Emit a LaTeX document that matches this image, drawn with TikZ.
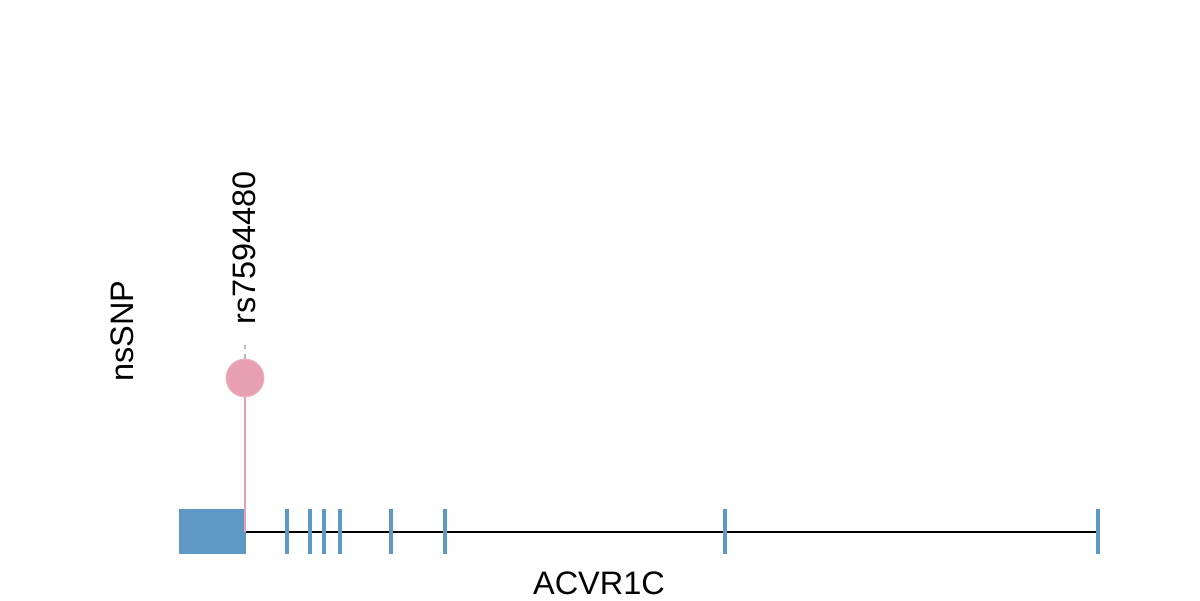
\documentclass[tikz,border=0pt]{standalone}
\usepackage{fontspec}
\setmainfont{Liberation Sans}
\usetikzlibrary{positioning}
\definecolor{exonblue}{RGB}{94,152,196}
\definecolor{snppink}{RGB}{232,160,176}
\definecolor{stemgray}{RGB}{185,185,185}
\tikzset{
  exon/.style={fill=exonblue,draw=none},
  exontick/.style={draw=exonblue,line width=2.8pt},
  backbone/.style={draw=black,line width=1.3pt},
  snpstem/.style={draw=snppink,line width=1.4pt},
  snphead/.style={circle,fill=snppink,draw=snppink!80!white,line width=0.6pt,minimum size=27pt,inner sep=0pt},
  snplead/.style={draw=stemgray,line width=1pt,dash pattern=on 3.5pt off 3pt},
  lbl/.style={font=\fontsize{23.1}{28}\selectfont,inner sep=0pt},
}
\begin{document}
\begin{tikzpicture}[x=0.025cm,y=-0.025cm]
  \useasboundingbox (0,0) rectangle (1200,600);
  % gene model
  \coordinate (gstart) at (246,532);
  \coordinate (gend) at (1098,532);
  \draw[backbone] (gstart) -- (gend);
  \fill[exon] (179,509) rectangle (246,554);
  \foreach \x [count=\i] in {287,310,324,340,391,445,725,1098}{
    \draw[exontick] (\x,509) -- (\x,554);
  }
  % variant
  \coordinate (snpbase) at (245,532);
  \node[snphead] (snp) at (245,378) {};
  \draw[snpstem] (snpbase) -- (snp.south);
  \coordinate (leadtop) at (245,344);
  \draw[snplead] (snp.north) -- (leadtop);
  \node[lbl,rotate=90,anchor=west] (snpname) at (244,325) {rs7594480};
  % track labels
  \node[lbl,rotate=90] (track) at (122,331) {nsSNP};
  \node[lbl] (gene) at (599,583) {ACVR1C};
\end{tikzpicture}
\end{document}
